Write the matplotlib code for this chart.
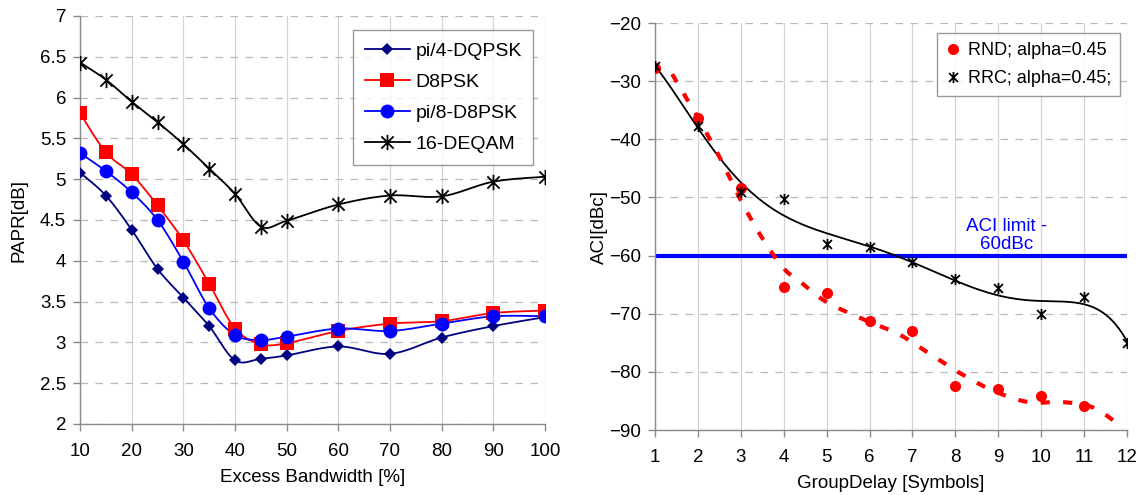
import numpy as np
import matplotlib
matplotlib.use("Agg")
import matplotlib.pyplot as plt
from matplotlib.path import Path

plt.rcParams['font.family'] = ['Liberation Sans', 'DejaVu Sans']

# ---------------- data: left chart ----------------
excess_bw = [10, 15, 20, 25, 30, 35, 40, 45, 50, 60, 70, 80, 90, 100]
papr_dqpsk = [5.08, 4.80, 4.38, 3.90, 3.55, 3.20, 2.78, 2.80, 2.84, 2.95, 2.86, 3.06, 3.20, 3.31]
papr_d8psk = [5.81, 5.33, 5.06, 4.68, 4.25, 3.72, 3.17, 2.98, 2.99, 3.14, 3.23, 3.26, 3.36, 3.39]
papr_pi8 = [5.32, 5.10, 4.84, 4.50, 3.99, 3.42, 3.09, 3.03, 3.07, 3.17, 3.14, 3.23, 3.32, 3.32]
papr_deqam = [6.43, 6.22, 5.95, 5.70, 5.43, 5.13, 4.82, 4.42, 4.49, 4.69, 4.80, 4.79, 4.97, 5.03]
left_labels = ['pi/4-DQPSK', 'D8PSK', 'pi/8-D8PSK', '16-DEQAM']

# ---------------- data: right chart ----------------
delay_rnd = [1, 2, 3, 4, 5, 6, 7, 8, 9, 10, 11]
aci_rnd = [-27.8, -36.4, -48.4, -65.4, -66.4, -71.2, -73.0, -82.5, -83.0, -84.2, -85.9]
delay_rrc = [1, 2, 3, 4, 5, 6, 7, 8, 9, 10, 11, 12]
aci_rrc = [-27.4, -37.7, -49.0, -50.3, -58.0, -58.5, -61.1, -64.1, -65.6, -70.0, -67.1, -75.0]
# RND trend line
rnd_trend_x = [1.4, 1.9, 2.5, 3.0, 3.5, 4.0, 4.4, 5.0, 5.9, 6.7, 7.4, 8.15, 8.9, 9.7, 10.5, 11.2, 11.8]
rnd_trend_y = [-28.8, -35.0, -43.0, -50.5, -57.0, -62.2, -64.6, -68.0, -71.1, -73.6, -76.9, -80.4, -83.3,
               -85.2, -85.2, -86.1, -89.0]
aci_limit = -60
right_labels = ['RND; alpha=0.45', 'RRC; alpha=0.45;']
trend_order = 6


def catmull(xs, ys, ax_range, ay_range, n=24):
    """Excel-like smoothed line through points (Catmull-Rom in normalized space)."""
    x = (np.asarray(xs, float) - ax_range[0]) / (ax_range[1] - ax_range[0])
    y = (np.asarray(ys, float) - ay_range[0]) / (ay_range[1] - ay_range[0])
    P = np.column_stack([x, y])
    P = np.vstack([P[0], P, P[-1]])
    out = []
    for i in range(1, len(P) - 2):
        p0, p1, p2, p3 = P[i - 1], P[i], P[i + 1], P[i + 2]
        t = np.linspace(0, 1, n, endpoint=False)[:, None]
        c = 0.5 * ((2 * p1) + (-p0 + p2) * t + (2 * p0 - 5 * p1 + 4 * p2 - p3) * t ** 2
                   + (-p0 + 3 * p1 - 3 * p2 + p3) * t ** 3)
        out.append(c)
    out.append(P[-2][None, :])
    out = np.vstack(out)
    return (out[:, 0] * (ax_range[1] - ax_range[0]) + ax_range[0],
            out[:, 1] * (ay_range[1] - ay_range[0]) + ay_range[0])


# star marker (X + vertical bar) like Excel
star = Path([(-1, -1), (1, 1), (-1, 1), (1, -1), (0, -1.25), (0, 1.25)],
            [Path.MOVETO, Path.LINETO, Path.MOVETO, Path.LINETO, Path.MOVETO, Path.LINETO])

FS = 13.5
fig = plt.figure(figsize=(11.4, 4.95), dpi=100)
axL = fig.add_axes([80 / 1140, 1 - 424 / 495, 465 / 1140, 408 / 495])
axR = fig.add_axes([655 / 1140, 1 - 430 / 495, 472 / 1140, 407 / 495])

GRID_V = '#d4d4d4'
GRID_H = '#b8b8b8'
SPINE = '#8a8a8a'


def style(ax):
    for s in ['top', 'right']:
        ax.spines[s].set_visible(False)
    for s in ['left', 'bottom']:
        ax.spines[s].set_color(SPINE)
        ax.spines[s].set_linewidth(1.0)
    ax.tick_params(direction='out', length=5, width=1.0, color=SPINE,
                   labelsize=FS, labelcolor='black')
    ax.tick_params(axis='x', pad=9)
    ax.tick_params(axis='y', pad=5)
    ax.xaxis.grid(True, color=GRID_V, linewidth=0.9, linestyle='-')
    ax.yaxis.grid(True, color=GRID_H, linewidth=0.9, linestyle=(0, (6, 6)))
    ax.set_axisbelow(True)


# ---------------- left ----------------
xrL, yrL = (10, 100), (2, 7)
series = [
    (papr_dqpsk, '#000080', 'D', 6.5, 1.3),
    (papr_d8psk, '#ff0000', 's', 9.5, 1.3),
    (papr_pi8, '#0000ff', 'o', 10, 1.3),
    (papr_deqam, '#000000', star, 11, 1.3),
]
handles = []
for (vals, col, mk, ms, lw), lab in zip(series, left_labels):
    sx, sy = catmull(excess_bw, vals, xrL, yrL)
    axL.plot(sx, sy, color=col, lw=lw, zorder=3)
    if mk is star:
        axL.plot(excess_bw, vals, linestyle='none', marker=mk, markersize=ms,
                 markeredgecolor=col, markerfacecolor='none', markeredgewidth=1.3, zorder=4)
        h, = axL.plot([], [], color=col, lw=lw, marker=mk, markersize=ms,
                      markeredgecolor=col, markerfacecolor='none', markeredgewidth=1.3, label=lab)
    else:
        axL.plot(excess_bw, vals, linestyle='none', marker=mk, markersize=ms,
                 color=col, markeredgewidth=0, zorder=4)
        h, = axL.plot([], [], color=col, lw=lw, marker=mk, markersize=ms,
                      markeredgewidth=0, label=lab)
    handles.append(h)

axL.set_xlim(*xrL)
axL.set_ylim(*yrL)
axL.set_xticks(excess_bw[:1] + list(range(20, 101, 10)))
axL.set_yticks(np.arange(2, 7.01, 0.5))
axL.set_yticklabels(['2', '2.5', '3', '3.5', '4', '4.5', '5', '5.5', '6', '6.5', '7'])
style(axL)
axL.set_xlabel('Excess Bandwidth [%]', fontsize=FS, labelpad=6)
axL.set_ylabel('PAPR[dB]', fontsize=FS, labelpad=9)
legL = axL.legend(handles=handles, loc='upper right', bbox_to_anchor=(0.975, 0.965),
                  fontsize=14, frameon=True, fancybox=False, edgecolor='#808080',
                  handlelength=2.3, borderpad=0.6, labelspacing=0.7, handletextpad=0.3,
                  borderaxespad=0)
legL.get_frame().set_linewidth(1.0)

# ---------------- right ----------------
xrR, yrR = (1, 12), (-90, -20)
axR.axhline(aci_limit, color='#0000ff', lw=3, zorder=2)

cr = np.polyfit(delay_rrc, aci_rrc, trend_order)
tx = np.linspace(1, 12, 300)
axR.plot(tx, np.polyval(cr, tx), color='black', lw=1.3, zorder=3)

rx, ry = catmull(rnd_trend_x, rnd_trend_y, xrR, yrR)
axR.plot(rx, ry, color='#ff0000', lw=3, linestyle=(0, (2.2, 3.2)), zorder=3)

hR1, = axR.plot(delay_rnd, aci_rnd, linestyle='none', marker='o', markersize=8,
                color='#ff0000', markeredgewidth=0, zorder=4, label=right_labels[0])
hR2, = axR.plot(delay_rrc, aci_rrc, linestyle='none', marker=star, markersize=8,
                markeredgecolor='black', markerfacecolor='none', markeredgewidth=1.3,
                zorder=5, label=right_labels[1])

axR.set_xlim(*xrR)
axR.set_ylim(*yrR)
axR.set_xticks(range(1, 13))
axR.set_yticks(range(-90, -19, 10))
style(axR)
axR.set_xlabel('GroupDelay [Symbols]', fontsize=FS, labelpad=6)
axR.set_ylabel('ACI[dBc]', fontsize=FS, labelpad=1)
axR.text(9.2, -56.5, 'ACI limit -\n60dBc', color='#0000ff', fontsize=FS,
         ha='center', va='center', linespacing=1.1)
legR = axR.legend(handles=[hR1, hR2], loc='upper right', bbox_to_anchor=(0.985, 0.975),
                  fontsize=13, frameon=True, fancybox=False, edgecolor='#808080',
                  handlelength=0.8, borderpad=0.5, labelspacing=0.6, handletextpad=0.4,
                  borderaxespad=0)
legR.get_frame().set_linewidth(1.0)

fig.savefig('out.png', dpi=100)
